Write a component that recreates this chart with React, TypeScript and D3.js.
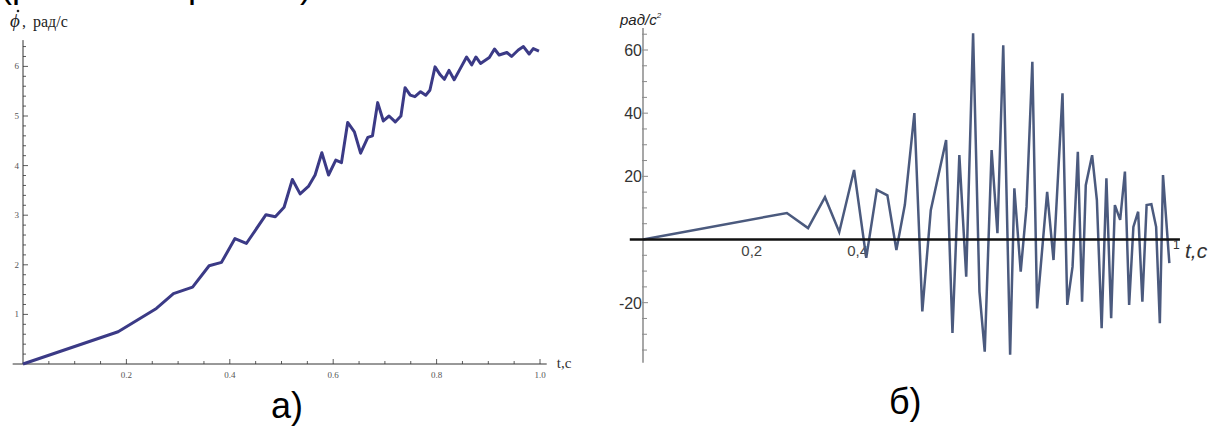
import React from 'react';
import * as d3 from 'd3';

// left chart: angular velocity, рад/с
const velT = [0, 0.184, 0.258, 0.291, 0.328, 0.36, 0.384, 0.41, 0.432, 0.47, 0.488, 0.505, 0.521, 0.536, 0.552, 0.565, 0.578, 0.591, 0.605, 0.616, 0.628, 0.641, 0.653, 0.667, 0.676, 0.686, 0.697, 0.708, 0.72, 0.731, 0.739, 0.749, 0.758, 0.769, 0.779, 0.787, 0.797, 0.807, 0.815, 0.824, 0.834, 0.846, 0.858, 0.868, 0.876, 0.885, 0.902, 0.912, 0.921, 0.936, 0.945, 0.958, 0.968, 0.979, 0.987, 0.998];
const velV = [0, 0.65, 1.12, 1.42, 1.55, 1.98, 2.05, 2.53, 2.43, 3.01, 2.97, 3.16, 3.72, 3.43, 3.58, 3.81, 4.26, 3.81, 4.11, 4.06, 4.87, 4.68, 4.25, 4.57, 4.6, 5.27, 4.9, 5.0, 4.88, 5.0, 5.57, 5.42, 5.39, 5.49, 5.42, 5.52, 5.99, 5.83, 5.74, 5.92, 5.73, 5.96, 6.19, 6.03, 6.19, 6.06, 6.18, 6.35, 6.23, 6.28, 6.2, 6.33, 6.4, 6.25, 6.36, 6.31];
const velYTicks = [1, 2, 3, 4, 5, 6];
const velXTicks = ['0.2', '0.4', '0.6', '0.8', '1.0'];

// right chart: angular acceleration, рад/с²
const accT = [0, 0.272, 0.312, 0.344, 0.371, 0.399, 0.422, 0.442, 0.462, 0.479, 0.495, 0.513, 0.528, 0.544, 0.573, 0.585, 0.598, 0.611, 0.624, 0.636, 0.646, 0.659, 0.67, 0.681, 0.694, 0.702, 0.714, 0.725, 0.736, 0.745, 0.764, 0.776, 0.793, 0.802, 0.812, 0.822, 0.83, 0.837, 0.849, 0.858, 0.867, 0.876, 0.885, 0.892, 0.902, 0.911, 0.919, 0.927, 0.936, 0.944, 0.952, 0.961, 0.97, 0.977, 0.983, 0.995];
const accV = [0, 8.4, 3.6, 13.4, 2.4, 22, -5.8, 15.7, 14, -3.3, 11, 40, -22.8, 9.3, 31.5, -29.6, 26.7, -11.8, 65.3, -16.5, -35.5, 28.3, 2, 61.5, -36.5, 16.2, -10.2, 10.4, 56.3, -21.8, 15.1, -6.5, 46.3, -20.7, -8.6, 27.8, -19.7, 17.2, 26.7, 12.5, -28.1, 19.4, -24.9, 10.9, 6.2, 21.5, -20.7, 4, 8.8, -19.7, 10.9, 11.2, 4, -26.5, 20.4, -7.5];
const accYTicks = [-20, 20, 40, 60];
const accXTicks = ['0,2', '0,4'];

const serif = '"Liberation Serif", "DejaVu Serif", serif';
const sans = '"Liberation Sans", Arial, sans-serif';

function VelocityChart() {
  const x = d3.scaleLinear().domain([0, 1]).range([23, 540]);
  const y = d3.scaleLinear().domain([0, 6]).range([364, 66.4]);
  const line = d3.line<number>().x((_, i) => x(velT[i])).y(d => y(d));

  const minorX = d3.range(0.05, 1.001, 0.05);
  const minorY = d3.range(0.2, 6.5, 0.2);

  return (
    <g>
      {/* axes */}
      <line x1={x(-0.02)} x2={x(1.013)} y1={y(0)} y2={y(0)} stroke="#333" strokeWidth={1} />
      <line x1={x(0)} x2={x(0)} y1={y(0)} y2={y(6.53)} stroke="#333" strokeWidth={1} />
      {minorX.map((t, i) => {
        const major = (i + 1) % 4 === 0;
        return <line key={'mx' + i} x1={x(t)} x2={x(t)} y1={y(0)} y2={y(0) - (major ? 5 : 3)} stroke="#333" strokeWidth={0.8} />;
      })}
      {minorY.map((v, i) => {
        const major = (i + 1) % 5 === 0;
        return <line key={'my' + i} x1={x(0)} x2={x(0) + (major ? 5 : 3)} y1={y(v)} y2={y(v)} stroke="#333" strokeWidth={0.8} />;
      })}
      {velXTicks.map(s => (
        <text key={s} x={x(+s)} y={y(0) + 14} fontFamily={serif} fontSize={9} fill="#555" textAnchor="middle">{s}</text>
      ))}
      {velYTicks.map(v => (
        <text key={v} x={x(0) - 4} y={y(v) + 3} fontFamily={serif} fontSize={9} fill="#555" textAnchor="end">{v}</text>
      ))}
      <text x={x(1.013) + 10} y={y(0) + 4} fontFamily={serif} fontSize={15} fill="#333">t,c</text>
      {/* axis title: phi with a dot, рад/с */}
      <text x={10} y={27} fontFamily={serif} fontSize={19} fontStyle="italic" fill="#222">{'\u03D5'}</text>
      <circle cx={18} cy={11} r={1.3} fill="#222" />
      <text x={22} y={27} fontFamily={serif} fontSize={16} fill="#222">,</text>
      <text x={33} y={27} fontFamily={serif} fontSize={16} fill="#222">рад/с</text>
      <path d={line(velV) || ''} fill="none" stroke="#3b3a86" strokeWidth={3} strokeLinejoin="round" />
      <text x={271} y={418} fontFamily={sans} fontSize={36} fill="#000">а)</text>
    </g>
  );
}

function AccelerationChart() {
  const x = d3.scaleLinear().domain([0, 1]).range([643, 1172]);
  const y = d3.scaleLinear().domain([0, 60]).range([239.5, 50]);
  const line = d3.line<number>().x((_, i) => x(accT[i])).y(d => y(d));

  const ticks = d3.range(-35, 66, 5).filter(v => v !== 0);

  return (
    <g>
      <line x1={x(0)} x2={x(0)} y1={y(67)} y2={y(-39)} stroke="#8a8a8a" strokeWidth={1.5} />
      {ticks.map(v => {
        const major = v % 20 === 0;
        return <line key={v} x1={x(0) - 1} x2={x(0) + (major ? 5 : 4)} y1={y(v)} y2={y(v)} stroke="#8a8a8a" strokeWidth={1} />;
      })}
      {accYTicks.map(v => (
        <text key={v} x={x(0) - 1} y={y(v) + 6} fontFamily={sans} fontSize={16} fill="#333" textAnchor="end">{v}</text>
      ))}
      {accXTicks.map(s => (
        <text key={s} x={x(+s.replace(',', '.')) + 3} y={y(0) + 16} fontFamily={sans} fontSize={15} fill="#444" textAnchor="middle">{s}</text>
      ))}
      <text x={620} y={25} fontFamily={sans} fontSize={15} fontStyle="italic" fill="#222">
        рад/с<tspan fontSize={8} dy={-7}>2</tspan>
      </text>
      <path d={line(accV) || ''} fill="none" stroke="#4b5a7e" strokeWidth={2.5} strokeLinejoin="miter" />
      <line x1={x(-0.025)} x2={x(1.015)} y1={y(0)} y2={y(0)} stroke="#111" strokeWidth={2.5} />
      <text x={x(1) + 1} y={y(0) + 9} fontFamily={sans} fontSize={12} fill="#333">1</text>
      <text x={1185} y={258} fontFamily={sans} fontSize={21} fontStyle="italic" fill="#333">t,c</text>
      <text x={889} y={414} fontFamily={sans} fontSize={36} fill="#000">б)</text>
    </g>
  );
}

export default function App() {
  return (
    <svg width={1215} height={426} style={{ position: 'absolute', left: 0, top: 0, background: '#fff' }}>
      <rect width={1215} height={426} fill="#fff" />
      {/* caption line of the page above, cut off at the top edge as in the reference */}
      <text x={0} y={-3} fontFamily={sans} fontSize={36} fill="#000">(р</text>
      <text x={188} y={-3} fontFamily={sans} fontSize={36} fill="#000">р</text>
      <text x={300} y={-3} fontFamily={sans} fontSize={36} fill="#000">)</text>
      <VelocityChart />
      <AccelerationChart />
    </svg>
  );
}
